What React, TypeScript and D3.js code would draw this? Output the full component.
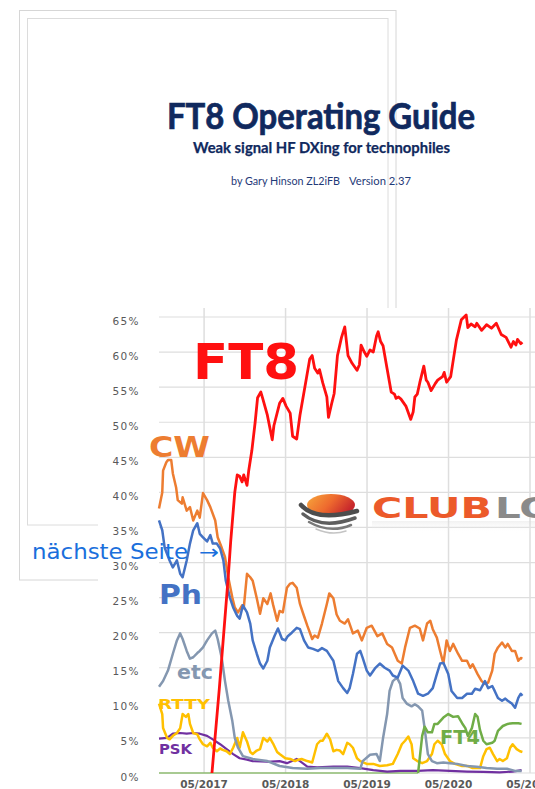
import React from "react";
import * as d3 from "d3";

// ---------- data (decimal years, percent of QSOs) ----------
const yTicks = [0, 5, 10, 15, 20, 25, 30, 35, 40, 45, 50, 55, 60, 65];
const xTickYears = [2017 + 4 / 12, 2018 + 4 / 12, 2019 + 4 / 12, 2020 + 4 / 12, 2021 + 4 / 12];
const xTickLabels = ["05/2017", "05/2018", "05/2019", "05/2020", "05/2021"];

const ft8: [number, number][] = [
  [2017.43, 0], [2017.52, 12], [2017.63, 28], [2017.66, 33], [2017.71, 40], [2017.74, 42.5], [2017.77, 42.3],
  [2017.8, 41.5], [2017.82, 42.5], [2017.86, 41], [2017.88, 43], [2017.92, 46], [2017.96, 50], [2017.99, 53.5],
  [2018.03, 54.3], [2018.05, 53.5], [2018.11, 51], [2018.17, 47.5], [2018.19, 49.5], [2018.26, 52.7], [2018.3, 53.4],
  [2018.34, 52.3], [2018.39, 51.3], [2018.42, 48], [2018.47, 47.6], [2018.51, 51], [2018.57, 55], [2018.63, 59],
  [2018.66, 59.5], [2018.69, 57.7], [2018.73, 57], [2018.75, 57.5], [2018.79, 55.6], [2018.84, 53.6], [2018.86, 50.7],
  [2018.9, 52.7], [2018.93, 54.1], [2018.97, 59.5], [2019.02, 62.1], [2019.06, 63.6], [2019.1, 59.5], [2019.15, 58.4],
  [2019.21, 57.4], [2019.24, 58.2], [2019.26, 61], [2019.3, 60], [2019.33, 59.4], [2019.37, 60.3], [2019.41, 60],
  [2019.45, 62.3], [2019.47, 62.9], [2019.5, 61.5], [2019.53, 60.9], [2019.58, 57.6], [2019.63, 54.3], [2019.67, 54],
  [2019.69, 53.4], [2019.72, 53.6], [2019.75, 53.3], [2019.81, 52.3], [2019.87, 50.4], [2019.9, 51.5], [2019.92, 53.6],
  [2019.95, 54], [2019.98, 55.6], [2020.03, 58], [2020.06, 56], [2020.08, 55.7], [2020.12, 54.5], [2020.14, 54.9],
  [2020.17, 55.5], [2020.2, 56], [2020.26, 56.5], [2020.28, 57.1], [2020.31, 55.7], [2020.36, 56.5], [2020.38, 58],
  [2020.43, 61.7], [2020.49, 64.6], [2020.55, 65.3], [2020.57, 63.5], [2020.61, 64], [2020.66, 63.6], [2020.68, 64.1],
  [2020.74, 63.1], [2020.8, 63.9], [2020.86, 63.4], [2020.92, 64.1], [2020.98, 62.5], [2021.04, 62.1], [2021.1, 60.7],
  [2021.13, 61.5], [2021.16, 61], [2021.18, 61.8], [2021.22, 61.2], [2021.24, 61.4],
];

const cw: [number, number][] = [
  [2016.78, 37.7], [2016.82, 40], [2016.83, 43.1], [2016.87, 44.3], [2016.89, 44.6], [2016.93, 44.6], [2016.95, 42.7],
  [2016.99, 40.7], [2017.01, 38.9], [2017.06, 38.4], [2017.07, 39.3], [2017.12, 37.4], [2017.16, 37.9], [2017.2, 36],
  [2017.25, 37.4], [2017.28, 36.4], [2017.32, 39.9], [2017.37, 38.9], [2017.41, 37.9], [2017.47, 36], [2017.5, 33.6],
  [2017.55, 32.1], [2017.59, 30.8], [2017.63, 27.9], [2017.68, 25], [2017.71, 23.6], [2017.75, 22.9], [2017.8, 23.9],
  [2017.82, 23.5], [2017.86, 28.4], [2017.9, 27.9], [2017.93, 27.4], [2017.98, 24.9], [2018.02, 22.7], [2018.06, 24.9],
  [2018.11, 24.1], [2018.15, 25.6], [2018.18, 24], [2018.23, 21.7], [2018.26, 23.1], [2018.3, 22.9], [2018.35, 26.4],
  [2018.39, 27], [2018.42, 27.1], [2018.47, 26.4], [2018.51, 24.1], [2018.55, 22.7], [2018.6, 21], [2018.66, 19.1],
  [2018.69, 19.6], [2018.73, 19.3], [2018.78, 21.3], [2018.84, 24.1], [2018.87, 25.6], [2018.92, 24.9], [2018.96, 22.6],
  [2019.0, 21.7], [2019.06, 21.3], [2019.1, 21.9], [2019.16, 19.9], [2019.22, 20.3], [2019.27, 18.9], [2019.33, 20.7],
  [2019.39, 21], [2019.46, 19.5], [2019.52, 19.9], [2019.58, 18.4], [2019.64, 17.9], [2019.71, 16], [2019.76, 15.6],
  [2019.8, 17.9], [2019.86, 20.7], [2019.92, 21], [2019.98, 20.6], [2020.02, 18.9], [2020.07, 21.3], [2020.11, 21.7],
  [2020.14, 20.5], [2020.19, 19.3], [2020.23, 17.4], [2020.27, 15.6], [2020.31, 18.9], [2020.35, 17.4], [2020.39, 18.4],
  [2020.45, 17], [2020.5, 16], [2020.56, 16], [2020.6, 15], [2020.63, 15.5], [2020.69, 14.1], [2020.74, 13.1],
  [2020.78, 12.7], [2020.82, 12.9], [2020.87, 14.6], [2020.9, 17], [2020.94, 17.9], [2020.99, 18.6], [2021.03, 17.9],
  [2021.06, 18.4], [2021.11, 17.4], [2021.15, 17.4], [2021.19, 16], [2021.22, 16.4], [2021.24, 16.3],
];

const phone: [number, number][] = [
  [2016.78, 36], [2016.82, 34.6], [2016.85, 32.1], [2016.91, 30.3], [2016.95, 29.3], [2017.0, 30.3], [2017.04, 28.4],
  [2017.07, 27.9], [2017.12, 30.3], [2017.16, 32.7], [2017.2, 34.6], [2017.25, 35.6], [2017.28, 34.1], [2017.32, 33.6],
  [2017.37, 33], [2017.41, 33.9], [2017.44, 32.7], [2017.49, 32.7], [2017.53, 32], [2017.57, 30.3], [2017.6, 27.4],
  [2017.65, 25], [2017.69, 23.6], [2017.74, 22.4], [2017.77, 22], [2017.81, 23.9], [2017.86, 22.9], [2017.9, 21.3],
  [2017.93, 18.9], [2017.98, 17], [2018.02, 15.6], [2018.06, 14.9], [2018.11, 16], [2018.14, 17.9], [2018.2, 19.6],
  [2018.24, 20.6], [2018.29, 19.1], [2018.33, 18.9], [2018.36, 19.5], [2018.41, 20], [2018.47, 20.7], [2018.51, 20.5],
  [2018.56, 18.9], [2018.61, 17.9], [2018.67, 17.7], [2018.73, 17.4], [2018.78, 17.8], [2018.84, 17.4], [2018.88, 16.7],
  [2018.92, 16], [2018.98, 13.1], [2019.04, 12.1], [2019.09, 11.4], [2019.12, 12.1], [2019.16, 14.1], [2019.21, 17],
  [2019.25, 17.4], [2019.28, 16.4], [2019.33, 14.6], [2019.37, 13.9], [2019.43, 14.9], [2019.49, 15.6], [2019.55, 15],
  [2019.61, 14.6], [2019.65, 13.9], [2019.71, 13.6], [2019.77, 15.3], [2019.84, 14.6], [2019.9, 13.1], [2019.96, 11.3],
  [2020.02, 11], [2020.08, 11.3], [2020.14, 12.1], [2020.19, 14.1], [2020.23, 15.6], [2020.27, 15.7], [2020.33, 14.1],
  [2020.37, 11.7], [2020.44, 10.7], [2020.5, 10.7], [2020.56, 11.3], [2020.62, 11.3], [2020.66, 12], [2020.72, 11.8],
  [2020.78, 13.1], [2020.82, 12.1], [2020.87, 12.4], [2020.9, 11.7], [2020.94, 10.7], [2020.99, 10.3], [2021.03, 10.6],
  [2021.06, 10.3], [2021.11, 9.9], [2021.15, 9.3], [2021.19, 10.7], [2021.22, 11.3], [2021.24, 11],
];

const etc: [number, number][] = [
  [2016.78, 12.3], [2016.83, 13.1], [2016.89, 14.6], [2016.95, 17], [2017.0, 18.9], [2017.04, 19.9], [2017.07, 19.1],
  [2017.12, 17.4], [2017.16, 16.3], [2017.2, 16.5], [2017.25, 17.1], [2017.28, 17.4], [2017.32, 17.9], [2017.37, 18.9],
  [2017.43, 19.9], [2017.47, 20.3], [2017.5, 19.1], [2017.55, 16.4], [2017.59, 13.1], [2017.63, 10.3], [2017.68, 7.4],
  [2017.71, 5], [2017.75, 3.6], [2017.81, 2.4], [2017.9, 2.1], [2017.93, 2], [2018.11, 1.7], [2018.26, 1],
  [2018.42, 0.7], [2018.6, 0.6], [2018.76, 0.7], [2018.92, 0.7], [2019.09, 0.7], [2019.25, 0.6], [2019.28, 1.7],
  [2019.37, 2.6], [2019.45, 2.7], [2019.49, 1.7], [2019.53, 5], [2019.58, 8.4], [2019.61, 11.7], [2019.65, 13.1],
  [2019.7, 13.6], [2019.74, 12.7], [2019.77, 10.7], [2019.82, 9.9], [2019.88, 9.5], [2019.92, 9.8], [2019.96, 9.5],
  [2020.01, 8.9], [2020.04, 6.4], [2020.08, 2.7], [2020.13, 1.7], [2020.19, 1.4], [2020.27, 1.5], [2020.35, 1.4],
  [2020.44, 1.3], [2020.56, 1], [2020.68, 0.9], [2020.8, 0.7], [2020.93, 0.6], [2021.05, 0.6], [2021.15, 0.3],
  [2021.23, 0.3],
];

const rtty: [number, number][] = [
  [2016.78, 9.9], [2016.82, 8.4], [2016.83, 6.4], [2016.88, 5], [2016.91, 4.8], [2016.95, 5.3], [2017.0, 5.7],
  [2017.04, 6.4], [2017.07, 8.4], [2017.11, 8], [2017.14, 8.4], [2017.16, 7], [2017.2, 5.7], [2017.25, 5.5],
  [2017.28, 4.8], [2017.32, 4.1], [2017.37, 3.8], [2017.41, 4.3], [2017.44, 3.6], [2017.49, 3.1], [2017.53, 3.5],
  [2017.56, 3.3], [2017.61, 3.1], [2017.65, 2.7], [2017.69, 3.6], [2017.74, 5], [2017.77, 3.6], [2017.81, 5.8],
  [2017.86, 4.5], [2017.9, 3], [2017.93, 2.7], [2017.98, 3.2], [2018.02, 3.4], [2018.06, 5], [2018.11, 4.5],
  [2018.14, 5], [2018.18, 4.2], [2018.23, 3], [2018.26, 2.7], [2018.33, 2.1], [2018.39, 2], [2018.45, 1.7],
  [2018.49, 1.9], [2018.53, 2], [2018.6, 1.7], [2018.66, 1.5], [2018.72, 4.1], [2018.76, 4.6], [2018.79, 4.6],
  [2018.84, 5.6], [2018.88, 4.8], [2018.92, 3.1], [2018.96, 3.3], [2019.0, 3.2], [2019.04, 2.7], [2019.09, 4.3],
  [2019.12, 4.1], [2019.16, 3.6], [2019.21, 2.1], [2019.25, 1.7], [2019.33, 1.3], [2019.41, 1.3], [2019.49, 1],
  [2019.58, 1.1], [2019.65, 1.3], [2019.71, 2.7], [2019.76, 4.1], [2019.8, 4.6], [2019.84, 5.2], [2019.88, 4.1],
  [2019.9, 2.1], [2019.95, 1.7], [2020.01, 1.4], [2020.07, 1.7], [2020.13, 2.7], [2020.16, 4.1], [2020.2, 4.6],
  [2020.25, 4.1], [2020.29, 2.7], [2020.35, 1.7], [2020.41, 1.3], [2020.5, 1], [2020.57, 1], [2020.63, 0.7],
  [2020.72, 0.7], [2020.76, 2.4], [2020.8, 3.4], [2020.84, 3.6], [2020.88, 2.7], [2020.93, 1.7], [2020.96, 2],
  [2021.0, 1.7], [2021.05, 2.1], [2021.09, 3.6], [2021.12, 4.1], [2021.17, 3.4], [2021.21, 3.1], [2021.24, 3],
];

const psk: [number, number][] = [
  [2016.78, 4.9], [2016.88, 5], [2016.95, 5.6], [2017.04, 5.7], [2017.12, 5.6], [2017.2, 5.7], [2017.28, 5.6],
  [2017.37, 5.3], [2017.44, 4.8], [2017.53, 4.1], [2017.61, 3.4], [2017.69, 2.7], [2017.77, 2.1], [2017.86, 1.9],
  [2017.93, 1.7], [2018.11, 1.6], [2018.26, 1.7], [2018.35, 1.4], [2018.47, 2], [2018.51, 1.7], [2018.6, 0.9],
  [2018.72, 0.8], [2018.92, 0.9], [2019.09, 0.9], [2019.25, 0.7], [2019.41, 0.4], [2019.58, 0.2], [2019.74, 0.3],
  [2019.95, 0.3], [2020.14, 0.4], [2020.35, 0.3], [2020.56, 0.2], [2020.76, 0.15], [2020.96, 0.1], [2021.12, 0.2],
  [2021.23, 0.4],
];

const ft4: [number, number][] = [
  [2016.78, 0], [2019.96, 0], [2020.01, 5.3], [2020.04, 6.6], [2020.08, 5.8], [2020.13, 5.8], [2020.16, 7],
  [2020.2, 7], [2020.27, 7.9], [2020.33, 8.4], [2020.39, 8], [2020.45, 8.1], [2020.5, 7.1], [2020.54, 6.4],
  [2020.57, 5.3], [2020.62, 6.4], [2020.66, 8.4], [2020.69, 8], [2020.72, 6.1], [2020.76, 4.6], [2020.8, 4.1],
  [2020.87, 4.3], [2020.9, 4.6], [2020.94, 6], [2021.0, 6.7], [2021.06, 7], [2021.12, 7.1], [2021.19, 7.1],
  [2021.23, 7],
];

// ---------- styles ----------
const C = {
  ft8: "#ff1010",
  cw: "#ed7d31",
  phone: "#4472c4",
  etc: "#8497b0",
  rtty: "#ffc000",
  psk: "#7030a0",
  ft4: "#70ad47",
  grid: "#dedede",
  axis: "#595959",
  navy: "#10295e",
};

const W = 535;
const H = 789;

export default function App() {
  const x = d3.scaleLinear().domain([2016.78, 2021 + 4 / 12]).range([159, 530]);
  const y = d3.scaleLinear().domain([0, 65]).range([773, 317]);
  const line = d3
    .line<[number, number]>()
    .x((d) => x(d[0]))
    .y((d) => y(d[1]));

  const ft4Start = ft4.findIndex((d) => d[1] > 0);
  const ft4Flat = ft4.slice(0, ft4Start);
  const ft4Active = ft4.slice(ft4Start - 1);

  const chartFont = "'DejaVu Sans', Verdana, sans-serif";
  const titleFont = "Lato, 'Open Sans', sans-serif";

  return (
    <svg
      width={W}
      height={H}
      style={{ position: "absolute", left: 0, top: 0, background: "#fff" }}
      xmlns="http://www.w3.org/2000/svg"
    >
      <defs>
        <linearGradient id="clubOrange" x1="0" y1="0" x2="1" y2="0.4">
          <stop offset="0" stopColor="#f7a83c" />
          <stop offset="0.55" stopColor="#ee6a2e" />
          <stop offset="1" stopColor="#c8282c" />
        </linearGradient>
        <linearGradient id="reflectGlow" x1="0" y1="0" x2="0" y2="1">
          <stop offset="0" stopColor="#d8d8d8" stopOpacity="0.35" />
          <stop offset="1" stopColor="#ffffff" stopOpacity="0" />
        </linearGradient>
      </defs>
      <rect x={0} y={0} width={W} height={H} fill="#fff" />

      {/* page frames */}
      <rect x={19.5} y={10.5} width={376.5} height={569.5} fill="none" stroke="#d6d6d6" strokeWidth={1} />
      <rect x={27.5} y={18.5} width={360.5} height={506.5} fill="none" stroke="#dcdcdc" strokeWidth={1} />

      {/* title block */}
      <text x={167} y={129} fontFamily={titleFont} fontWeight={700} fontSize={36} fill={C.navy} stroke={C.navy} strokeWidth={0.7} textLength={308} lengthAdjust="spacingAndGlyphs">
        FT8 Operating Guide
      </text>
      <text x={193} y={153} fontFamily={titleFont} fontWeight={700} fontSize={14.5} fill={C.navy} stroke={C.navy} strokeWidth={0.25} textLength={257} lengthAdjust="spacingAndGlyphs">
        Weak signal HF DXing for technophiles
      </text>
      <text x={231} y={185} fontFamily={titleFont} fontSize={11.5} fill="#1f3a78" textLength={109} lengthAdjust="spacingAndGlyphs">
        by Gary Hinson ZL2iFB
      </text>
      <text x={349} y={185} fontFamily={titleFont} fontSize={11.5} fill="#1f3a78" textLength={62} lengthAdjust="spacingAndGlyphs">
        Version 2.37
      </text>

      {/* chart panel */}
      <rect x={98} y={308} width={W - 98} height={H - 308} fill="#fff" />

      {/* grid */}
      {yTicks.map((t) => (
        <line key={"hy" + t} x1={159} x2={W} y1={y(t)} y2={y(t)} stroke={C.grid} strokeWidth={1.2} />
      ))}
      {xTickYears.map((t) => (
        <line key={"vx" + t} x1={x(t)} x2={x(t)} y1={308} y2={y(0)} stroke={C.grid} strokeWidth={1.5} />
      ))}

      {/* y labels */}
      {yTicks.map((t) => (
        <text key={"yl" + t} x={140} y={y(t) + 7.5} textAnchor="end" fontFamily={chartFont} fontSize={10.5} letterSpacing={1.4} fill={C.axis}>
          {t + "%"}
        </text>
      ))}
      {/* x labels */}
      {xTickYears.map((t, i) => (
        <text key={"xl" + t} x={x(t)} y={788} textAnchor="middle" fontFamily={chartFont} fontWeight={700} fontSize={10.5} fill={C.axis}>
          {xTickLabels[i]}
        </text>
      ))}

      {/* Club Log logo */}
      <g>
        <ellipse cx={331} cy={505} rx={24} ry={11} fill="url(#clubOrange)" />
        <path d="M301 505 Q316 522 357 511" fill="none" stroke="#4d4d4d" strokeWidth={4.5} strokeLinecap="round" />
        <path d="M303 514 Q322 530 355 518" fill="none" stroke="#5e5e5e" strokeWidth={3.5} strokeLinecap="round" />
        <path d="M309 522 Q330 534 351 525" fill="none" stroke="#7a7a7a" strokeWidth={2.5} strokeLinecap="round" />
        <path d="M316 529 Q332 536 346 531" fill="none" stroke="#c4c4c4" strokeWidth={1.5} strokeLinecap="round" />
        <text x={372} y={518} fontFamily={chartFont} fontWeight={700} fontSize={27.5} fill="#ec5a2a" textLength={120} lengthAdjust="spacingAndGlyphs">
          CLUB
        </text>
        <text x={495} y={518} fontFamily={chartFont} fontWeight={700} fontSize={27.5} fill="#8a8a8a" textLength={92} lengthAdjust="spacingAndGlyphs">
          LOG
        </text>
        <rect x={372} y={521} width={163} height={12} fill="url(#reflectGlow)" />
      </g>

      {/* series */}
      <path d={line(ft4Flat) || ""} fill="none" stroke={C.ft4} strokeOpacity={0.55} strokeWidth={2.2} />
      <path d={line(psk) || ""} fill="none" stroke={C.psk} strokeWidth={2.2} strokeLinejoin="round" />
      <path d={line(rtty) || ""} fill="none" stroke={C.rtty} strokeWidth={2.5} strokeLinejoin="round" />
      <path d={line(etc) || ""} fill="none" stroke={C.etc} strokeWidth={2.5} strokeLinejoin="round" />
      <path d={line(ft4Active) || ""} fill="none" stroke={C.ft4} strokeWidth={2.5} strokeLinejoin="round" />
      <path d={line(cw) || ""} fill="none" stroke={C.cw} strokeWidth={2.5} strokeLinejoin="round" />
      <path d={line(phone) || ""} fill="none" stroke={C.phone} strokeWidth={2.5} strokeLinejoin="round" />
      <path d={line(ft8) || ""} fill="none" stroke={C.ft8} strokeWidth={2.8} strokeLinejoin="round" />

      {/* series labels */}
      <text x={193} y={379} fontFamily={chartFont} fontWeight={700} fontSize={50} fill={C.ft8} textLength={106} lengthAdjust="spacingAndGlyphs">
        FT8
      </text>
      <text x={149} y={457} fontFamily={chartFont} fontWeight={700} fontSize={28} fill={C.cw} textLength={61} lengthAdjust="spacingAndGlyphs">
        CW
      </text>
      <text x={159} y={604} fontFamily={chartFont} fontWeight={700} fontSize={27} fill={C.phone} textLength={43} lengthAdjust="spacingAndGlyphs">
        Ph
      </text>
      <text x={177} y={679} fontFamily={chartFont} fontWeight={700} fontSize={20} fill={C.etc} textLength={36} lengthAdjust="spacingAndGlyphs">
        etc
      </text>
      <text x={158} y={709} fontFamily={chartFont} fontWeight={700} fontSize={14.5} fill={C.rtty} textLength={52} lengthAdjust="spacingAndGlyphs">
        RTTY
      </text>
      <text x={159} y={754} fontFamily={chartFont} fontWeight={700} fontSize={14} fill={C.psk} textLength={33} lengthAdjust="spacingAndGlyphs">
        PSK
      </text>
      <text x={440} y={744} fontFamily={chartFont} fontWeight={700} fontSize={19} fill={C.ft4} textLength={40} lengthAdjust="spacingAndGlyphs">
        FT4
      </text>

      {/* page navigation overlay */}
      <text x={32} y={559} fontFamily={chartFont} fontSize={22} fill="#1a6fdc" textLength={156} lengthAdjust="spacingAndGlyphs">
        nächste Seite
      </text>
      <text x={199} y={559} fontFamily={chartFont} fontSize={20} fill="#1a6fdc" textLength={20} lengthAdjust="spacingAndGlyphs">
        →
      </text>
    </svg>
  );
}
